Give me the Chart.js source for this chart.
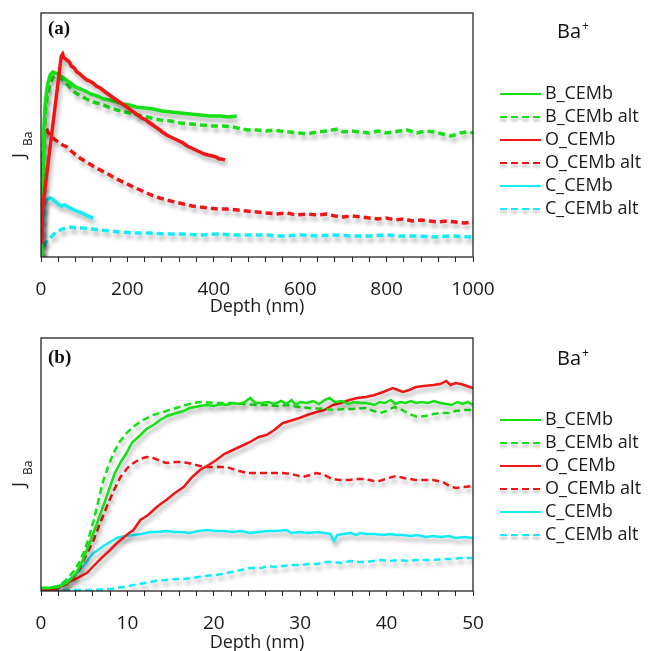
<!DOCTYPE html>
<html>
<head>
<meta charset="utf-8">
<script src="https://cdn.jsdelivr.net/npm/chart.js@4.4.1/dist/chart.umd.min.js"></script>
<style>
  html, body { margin: 0; padding: 0; background: #fff; }
  #wrap { position: relative; width: 652px; height: 651px; }
  canvas { position: absolute; left: 0; }
  #chartA { top: 0; }
  #chartB { top: 320px; }
</style>
</head>
<body>
<div id="wrap">
  <canvas id="chartA" width="652" height="320"></canvas>
  <canvas id="chartB" width="652" height="331"></canvas>
</div>
<script>
// ---- data: [depth nm, J_Ba (arb. units)] ----
const SERIES_NAMES = ["B_CEMb", "B_CEMb alt", "O_CEMb", "O_CEMb alt", "C_CEMb", "C_CEMb alt"];

// panel (a) 0-1000 nm
const A_B = [[0,0],[2,40],[3,57],[5,100],[6.5,127],[9,148],[12,162],[16,174],[21,182],[27,185],[33,184],[40,183],[45,181],[55,178],[68,174],[80,170],[92,168],[102,166],[115,163],[130,161],[145,158],[160,157],[175,155],[190,153],[205,152],[220,150],[240,149],[260,148],[280,146],[300,145],[322,144],[345,143],[368,142],[390,141],[414,141],[435,140],[453,141]];
const A_B_ALT = [[0,0],[2,30],[4,70],[7,117],[10,145],[14,160],[20,172],[28,180],[35,182],[45,180],[55,175],[68,169],[80,164],[92,161],[105,158],[120,155],[137,153],[155,150],[175,147],[195,145],[214,143],[235,141],[255,139],[275,137],[300,136],[322,134],[345,133],[370,132],[395,131],[420,131],[445,130],[465,128],[480,127],[500,127],[520,126],[540,127],[553,126],[575,125],[600,124],[615,123],[640,125],[660,126],[687,128],[700,125],[720,126],[737,125],[760,124],[780,126],[800,124],[830,126],[848,127],[870,124],[890,126],[910,125],[930,123],[950,121],[970,124],[985,125],[1000,124]];
const A_O = [[0,15],[2,30],[4,50],[47,201],[50,203],[53,199],[60,197],[66,195],[70,191],[77,189],[83,185],[90,183],[95,181],[100,179],[106,177],[113,176],[120,174],[128,171],[137,169],[146,166],[155,163],[165,160],[175,157],[185,154],[195,151],[205,148],[214,145],[224,142],[233,139],[243,137],[252,134],[262,131],[272,128],[281,125],[291,122],[300,120],[310,118],[320,116],[329,114],[338,111],[348,109],[358,107],[368,105],[378,103],[387,102],[397,101],[406,100],[412,98],[418,98],[426,97]];
const A_O_ALT = [[0,0],[2,50],[4,100],[7,122],[11,130],[15,126],[20,122],[30,118],[40,115],[50,112],[60,110],[75,104],[90,99],[105,95],[120,91],[137,87],[155,83],[175,78],[195,74],[214,70],[235,66],[255,62],[275,59],[291,57],[310,55],[330,53],[350,51],[368,50],[390,49],[410,48],[430,48],[455,47],[476,46],[500,45],[522,44],[545,43],[570,44],[590,42],[615,43],[640,42],[660,43],[680,41],[700,40],[720,41],[740,40],[760,39],[780,38],[800,39],[820,37],[840,38],[860,36],[880,37],[900,36],[920,35],[940,36],[960,35],[980,34],[1000,35]];
const A_C = [[0,0],[2,20],[4,38],[7,50],[11,56],[16,58],[21,59],[26,58],[32,56],[40,53],[48,51],[55,52],[63,50],[72,48],[82,46],[95,44],[108,41],[121,39]];
const A_C_ALT = [[0,0],[3,6],[6,10],[10,14],[15,17],[21,19],[30,23],[40,26],[50,28],[60,29],[70,30],[80,29],[95,29],[115,28],[137,27],[160,26],[185,25],[214,24],[250,24],[290,23],[330,23],[368,22],[410,23],[450,22],[490,22],[522,22],[560,21],[600,22],[640,21],[676,22],[720,21],[760,21],[800,22],[830,21],[870,21],[910,20],[950,21],[998,20]];

// panel (b) 0-50 nm
const B_B = [[0,3],[1,3],[2,4],[3,8],[4,17],[4.7,28],[5.5,45],[6.5,68],[7.5,92],[8.5,117],[9.3,130],[9.9,138],[10.5,148],[11.5,156],[12.2,162],[13,166],[13.8,171],[14.6,175],[15.7,178],[16.5,180],[17.2,183],[18.4,185],[19.2,186],[20,185],[20.8,187],[21.5,186],[22.2,188],[23,187],[23.6,189],[24.2,193],[24.8,188],[25.5,188],[26.3,189],[27,187],[27.8,190],[28.4,187],[29,191],[29.5,186],[30,189],[30.8,188],[31.5,190],[32.2,187],[32.8,191],[33.4,193],[34,189],[34.8,190],[35.6,187],[36.2,189],[37,188],[37.6,188],[38.2,187],[38.6,186],[39.2,189],[39.8,188],[40.5,191],[41,187],[41.6,189],[42.2,188],[42.8,190],[43.4,188],[44,189],[44.8,188],[45.5,190],[46.2,188],[46.9,187],[47.5,186],[48.2,189],[48.8,187],[49.4,189],[50,186]];
const B_B_ALT = [[0,3],[1,3],[2,5],[2.8,10],[3.4,16],[3.8,20],[4.4,28],[4.9,38],[5.5,52],[6.1,71],[6.7,92],[7.2,110],[7.8,125],[8.4,138],[9.1,149],[9.9,158],[10.8,165],[11.8,171],[13,176],[14.5,180],[16,184],[17.6,188],[18.5,189],[20.3,188],[22,188],[23.5,187],[25,186],[26.1,186],[27.5,185],[28.5,186],[29.9,184],[31,183],[32.8,182],[34,181],[35,182],[36,182],[37.6,183],[38.5,180],[39.2,178],[40,180],[40.9,184],[41.8,181],[42.6,177],[43.6,174],[44.5,175],[45.4,177],[46.3,178],[47.2,178],[48,180],[49,181],[50,181]];
const B_O = [[0,0],[1,1],[2,3],[3,8],[4,12],[5.3,18],[6.2,26],[7,33],[8,41],[8.8,48],[9.5,53],[10.2,58],[10.7,61],[11.5,71],[12.4,76],[13.4,84],[14,88],[14.5,91],[15.5,98],[16.5,104],[17.5,114],[18.4,121],[19.4,126],[20.3,131],[21.2,137],[22.2,141],[23.2,145],[24.2,149],[25.2,154],[26.1,156],[27,161],[28,168],[28.8,170],[29.9,173],[30.8,176],[31.9,179],[32.8,181],[33.8,186],[34.7,188],[35.7,191],[36.6,193],[37.6,194],[38.6,196],[39.6,199],[40.7,203],[41.3,201],[41.9,199],[42.6,201],[43.4,204],[44.3,205],[45.4,206],[46.2,207],[46.9,210],[47.4,206],[48,208],[48.6,207],[49.3,205],[50,203]];
const B_O_ALT = [[0,2],[1,2],[2,3],[3,7],[3.6,12],[4.2,18],[5,32],[6.1,51],[6.8,67],[7.6,84],[8.4,100],[9.2,114],[10,123],[10.7,128],[11.5,132],[12.2,134],[13,133],[13.8,130],[14.5,128],[15.5,129],[16.5,129],[17.5,127],[18.4,125],[19.2,124],[20.3,124],[21.5,124],[22.5,121],[23.8,118],[25,118],[26.5,118],[28,118],[29,117],[30.3,114],[31.2,116],[31.9,118],[32.8,116],[33.7,112],[34.6,111],[35.7,111],[36.6,112],[37.6,112],[38.5,110],[39.2,110],[40.2,113],[41.1,115],[42,113],[43.4,111],[44.5,111],[45.4,111],[46.5,109],[47.3,105],[48,103],[49,104],[49.9,105]];
const B_C = [[0,3],[1,3],[2,5],[3,10],[4.2,18],[5,26],[5.6,33],[6.1,38],[6.6,41],[7.2,45],[8,49],[8.8,53],[9.7,55],[10.7,56],[11.6,57],[12.6,59],[13.5,59],[14.5,60],[15.5,59],[16.3,59],[17.2,58],[18.2,60],[19.2,61],[20.2,60],[21.2,60],[22.2,59],[23.2,60],[24.2,58],[25.2,59],[26.1,60],[27.2,60],[28.4,61],[29,58],[29.9,59],[31,58],[32,59],[32.8,58],[33.5,57],[33.9,50],[34.3,56],[35,57],[35.8,58],[36.5,56],[36.9,58],[37.6,57],[38.6,57],[39.6,56],[40.4,57],[41.2,56],[41.9,56],[42.8,55],[43.6,56],[44.5,54],[45.4,55],[46.3,54],[47.2,55],[48,53],[49,54],[50,53]];
const B_C_ALT = [[0,1],[2,1],[4,1],[6,1],[8,2],[9.5,4],[10.7,6],[12,8],[13.2,10],[14.5,11],[15.6,12],[16.5,12],[17.6,13],[18.8,15],[20.3,16],[21.5,18],[22.6,20],[24.2,23],[25.5,23],[26.3,25],[27.2,24],[28,25],[29,26],[29.9,26],[31,27],[32,27],[33,29],[33.8,29],[34.8,28],[35.8,30],[36.8,29],[37.6,29],[38.4,30],[39.4,31],[40.3,30],[41.4,31],[42.5,30],[43.5,31],[44.5,31],[45.4,31],[46.5,32],[47.5,32],[48.5,33],[49.9,33]];

// ---- styles ----
const GREEN = "#14e014", RED = "#f01616", CYAN = "#12ecf6";
const SERIES_COLORS = [GREEN, GREEN, RED, RED, CYAN, CYAN];
const FONT = "'Open Sans', 'DejaVu Sans', sans-serif";
const INK = "#1a1a1a";

Chart.defaults.font.family = FONT;
Chart.defaults.color = INK;

function makeSets(list, width) {
  return list.map((pts, i) => ({
    label: SERIES_NAMES[i],
    data: pts.map(([x, y]) => ({ x, y })),
    borderColor: SERIES_COLORS[i],
    borderWidth: width,
    borderDash: i % 2 ? [7, 4] : [],
    pointRadius: 0,
    tension: 0,
    fill: false
  }));
}

// soft grey drop shadow under every curve
const shadowPlugin = {
  id: "shadow",
  beforeDatasetDraw(chart) {
    const ctx = chart.ctx;
    ctx.save();
    ctx.shadowColor = "rgba(0,0,0,0.33)";
    ctx.shadowBlur = 4;
    ctx.shadowOffsetX = 2;
    ctx.shadowOffsetY = 4;
  },
  afterDatasetDraw(chart) { chart.ctx.restore(); }
};

// frame, panel letter, ion label, legend and y title
const decoPlugin = {
  id: "deco",
  afterDraw(chart, args, o) {
    const { ctx, chartArea: a } = chart;
    ctx.save();
    ctx.strokeStyle = "#262626";
    ctx.lineWidth = 1.3;
    ctx.strokeRect(a.left, a.top, a.right - a.left, a.bottom - a.top);

    ctx.fillStyle = "#111";
    ctx.textAlign = "left";
    ctx.textBaseline = "alphabetic";
    ctx.font = "bold 19px 'Liberation Serif', 'Times New Roman', serif";
    ctx.fillText(o.letter, 48, o.letterY);

    ctx.font = "20px " + FONT;
    ctx.fillText("Ba", 557, o.ionY);
    const w = ctx.measureText("Ba").width;
    ctx.font = "12px " + FONT;
    ctx.fillText("+", 557 + w + 1, o.ionY - 8);

    chart.data.datasets.forEach((ds, i) => {
      const y = o.legendTop + i * 23;
      ctx.save();
      if (i % 2) {
        ctx.shadowColor = "rgba(0,0,0,0.3)";
        ctx.shadowBlur = 3;
        ctx.shadowOffsetY = 3;
      }
      ctx.strokeStyle = ds.borderColor;
      ctx.lineWidth = 2;
      ctx.setLineDash(i % 2 ? [7, 4] : []);
      ctx.beginPath();
      ctx.moveTo(500, y);
      ctx.lineTo(541, y);
      ctx.stroke();
      ctx.restore();
      ctx.fillStyle = INK;
      ctx.font = "18px " + FONT;
      ctx.textBaseline = "middle";
      ctx.fillText(ds.label, 545, y);
    });

    ctx.translate(25, o.jY);
    ctx.rotate(-Math.PI / 2);
    ctx.textBaseline = "alphabetic";
    ctx.font = "18px " + FONT;
    ctx.fillText("J", 0, 0);
    ctx.font = "12px " + FONT;
    ctx.fillText("Ba", 12, 7);
    ctx.restore();
  }
};

function panel(id, sets, xMax, step, labelStep, yMax, pad, axisH, titleLH, titlePad, deco) {
  return new Chart(document.getElementById(id), {
    type: "line",
    data: { datasets: sets },
    options: {
      responsive: false,
      animation: false,
      devicePixelRatio: 1,
      layout: { padding: pad },
      plugins: { legend: { display: false }, tooltip: { enabled: false }, deco },
      scales: {
        x: {
          type: "linear",
          min: 0,
          max: xMax,
          afterFit: (s) => { s.height = axisH; },
          border: { display: false },
          grid: { drawOnChartArea: false, drawTicks: true, tickLength: 5, tickColor: "#222" },
          ticks: {
            stepSize: step,
            autoSkip: false,
            maxRotation: 0,
            padding: 16,
            color: INK,
            font: { size: 19 },
            callback: (v) => (v % labelStep === 0 ? String(v) : "")
          },
          title: { display: true, text: "Depth (nm)", color: INK, font: { size: 18, lineHeight: titleLH }, padding: titlePad }
        },
        y: { display: false, min: 0, max: yMax }
      }
    },
    plugins: [shadowPlugin, decoPlugin]
  });
}

const setsA = makeSets([A_B, A_B_ALT, A_O, A_O_ALT, A_C, A_C_ALT], 3.5);
setsA[2].order = -1;
panel("chartA", setsA, 1000, 40, 200, 244,
  { left: 41, right: 179, top: 13, bottom: 0 }, 63, 1, { top: 0, bottom: 4 },
  { letter: "(a)", letterY: 34, ionY: 38, legendTop: 94, jY: 158 });

const setsB = makeSets([B_B, B_B_ALT, B_O, B_O_ALT, B_C, B_C_ALT], 2.5);
panel("chartB", setsB, 50, 2, 10, 253,
  { left: 41, right: 179, top: 18, bottom: 0 }, 60, 0.85, { top: 0, bottom: 0 },
  { letter: "(b)", letterY: 43, ionY: 45, legendTop: 100, jY: 167 });
</script>
</body>
</html>
